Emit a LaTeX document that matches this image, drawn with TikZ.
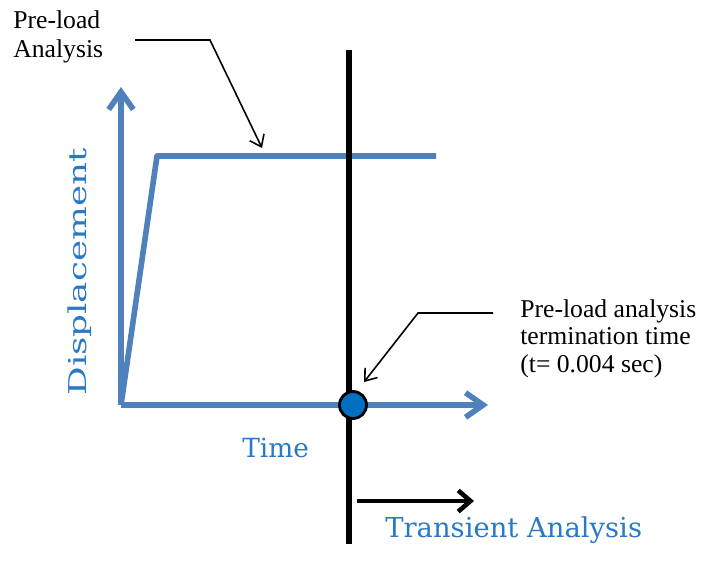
\documentclass[tikz,border=0pt]{standalone}
\usepackage{fontspec}
\setmainfont{Liberation Serif}
\newfontfamily\slabfont{DejaVu Serif}
\usetikzlibrary{arrows.meta}

\definecolor{plotblue}{RGB}{79,129,189}
\definecolor{labelblue}{RGB}{41,121,196}
\definecolor{markblue}{RGB}{0,112,192}

\tikzset{
    axis/.style={plotblue, line width=3.2pt, -{Straight Barb[length=10pt, width=14pt]}},
    leader/.style={line width=0.9pt, -{Straight Barb[length=6pt, width=9pt]}},
    note/.style={inner sep=0pt, align=left},
    bluelabel/.style={labelblue, inner sep=0pt, font=\slabfont},
}

\begin{document}
\begin{tikzpicture}[x=0.02cm, y=-0.02cm]
    \useasboundingbox (0, 0) rectangle (705, 562);

    % axes and load curve
    \coordinate (origin) at (121, 405);
    \coordinate (ytip) at (121, 87);
    \coordinate (xtip) at (488, 405);
    \coordinate (ramp) at (157, 156);
    \coordinate (hold) at (436, 156);
    \draw[axis] (origin) -- (ytip);
    \draw[axis] (origin) -- (xtip);
    \draw[plotblue, line width=3.2pt, line join=round] (origin) -- (ramp) -- (hold);

    \node[bluelabel, font=\slabfont\fontsize{14}{16}\selectfont, rotate=90, anchor=base] (disp) at (86, 272) {\scalebox{1.45}[1]{Displacement}};
    \node[bluelabel, font=\slabfont\fontsize{15}{17}\selectfont, anchor=base west] (time) at (242, 457) {Time};

    % termination line
    \coordinate (cuttop) at (349, 50);
    \coordinate (cutbot) at (349, 544);
    \draw[line width=3.4pt] (cuttop) -- (cutbot);
    \node[circle, draw, line width=1.6pt, fill=markblue, inner sep=0pt, minimum size=0.54cm] (stop) at (353, 405) {};

    \coordinate (tstart) at (357, 501);
    \coordinate (tend) at (474, 501);
    \draw[line width=2.6pt, -{Straight Barb[length=7pt, width=12pt]}] (tstart) -- (tend);
    \node[bluelabel, font=\slabfont\fontsize{15.6}{18}\selectfont, anchor=base west] (transient) at (385, 537) {Transient Analysis};

    % notes
    \node[note, font=\fontsize{14.6}{16.6}\selectfont, anchor=north west] (preload) at (13, 10) {Pre-load\\Analysis};
    \coordinate (p1) at (135, 40);
    \coordinate (p2) at (210, 40);
    \coordinate (p3) at (262, 148);
    \draw[leader] (p1) -- (p2) -- (p3);

    \node[note, font=\fontsize{14.6}{15.8}\selectfont, anchor=north west] (termnote) at (520, 299) {Pre-load analysis\\termination time\\(t= 0.004 sec)};
    \coordinate (q1) at (493, 313);
    \coordinate (q2) at (418, 313);
    \coordinate (q3) at (364, 382);
    \draw[leader] (q1) -- (q2) -- (q3);
\end{tikzpicture}
\end{document}
